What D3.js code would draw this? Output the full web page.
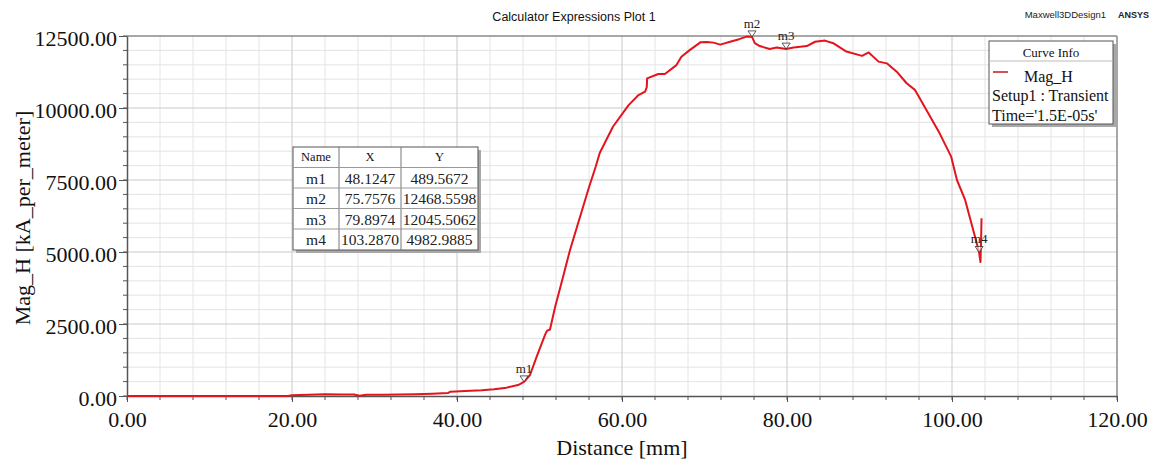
<!DOCTYPE html>
<html>
<head>
<meta charset="utf-8">
<script src="https://cdnjs.cloudflare.com/ajax/libs/d3/7.8.5/d3.min.js"></script>
<style>
  body { margin: 0; background: #fff; }
  svg { display: block; }
</style>
</head>
<body>
<script>
// curve samples: distance [mm] and Mag_H [kA_per_meter]
var distance = [0, 10, 19.5, 20, 22, 24, 26, 27.5, 28.2, 29, 31, 33, 35, 37, 38.9, 39.2, 41, 43, 44.5, 46, 47.4,
  48.1247, 48.85, 49.66, 50.67, 50.9, 51.27, 51.9, 52.7, 53.7, 55.0, 56.0, 56.8, 57.3, 58.9, 60.8, 62.0, 62.8, 63.0, 63.05,
  64.4, 65.2, 66.6, 67.2, 68.2, 69.5, 70.3, 71.1, 71.9, 73.1, 74.2, 75.1, 75.7576, 76.1, 76.7, 77.9, 78.75, 79.8974,
  80.8, 81.6, 82.4, 83.4, 84.6, 85.6, 87.2, 89.1, 89.9, 91.1, 92.1, 93.3, 94.5, 95.5, 96.9, 98.5, 99.9, 100.6, 101.6,
  103.0, 103.287, 103.45, 103.52, 103.58];
var magH = [0, 0, 0, 30, 45, 60, 55, 50, 10, 40, 45, 50, 60, 80, 100, 150, 170, 200, 235, 290, 380,
  489.5672, 730, 1365, 2120, 2260, 2310, 3100, 3970, 5070, 6300, 7250, 7950, 8440, 9350, 10100, 10450, 10570, 10720, 11030,
  11180, 11180, 11490, 11780, 12010, 12280, 12290, 12270, 12200, 12300, 12390, 12480, 12468.5598, 12250, 12150, 12050, 12100, 12045.5062,
  12100, 12130, 12150, 12300, 12340, 12250, 11960, 11810, 11930, 11610, 11550, 11260, 10860, 10630, 9930, 9120, 8310, 7500, 6800,
  5300, 4982.9885, 4650, 5300, 6170];

// markers
var markerNames = ["m1", "m2", "m3", "m4"];
var markerX = [48.1247, 75.7576, 79.8974, 103.2870];
var markerY = [489.5672, 12468.5598, 12045.5062, 4982.9885];

var xTicks = [0, 20, 40, 60, 80, 100, 120];
var yTicks = [0, 2500, 5000, 7500, 10000, 12500];

var legendLines = ["Setup1 : Transient", "Time='1.5E-05s'"];

var w = 1154, h = 464;
var pLeft = 127, pRight = 1117, pTop = 36, pBottom = 396;
var serif = "'Liberation Serif', 'Times New Roman', serif";
var sans = "'Liberation Sans', Arial, sans-serif";

var svg = d3.select("body").append("svg")
  .attr("width", w)
  .attr("height", h);

var x = d3.scaleLinear().domain([0, 120]).range([pLeft, pRight]);
var y = d3.scaleLinear().domain([0, 12500]).range([pBottom, pTop]);

// grid: minor then major
var xMinor = d3.range(0, 121, 4);
var yMinor = d3.range(0, 12501, 500);

svg.append("g").selectAll("line")
  .data(xMinor.filter(function (d) { return d % 20 !== 0; }))
  .enter().append("line")
  .attr("x1", function (d) { return x(d); })
  .attr("x2", function (d) { return x(d); })
  .attr("y1", pTop).attr("y2", pBottom)
  .attr("stroke", "#e4e4e4").attr("stroke-width", 1);

svg.append("g").selectAll("line")
  .data(yMinor.filter(function (d) { return d % 2500 !== 0; }))
  .enter().append("line")
  .attr("x1", pLeft).attr("x2", pRight)
  .attr("y1", function (d) { return y(d); })
  .attr("y2", function (d) { return y(d); })
  .attr("stroke", "#e4e4e4").attr("stroke-width", 1);

svg.append("g").selectAll("line")
  .data(xTicks.slice(1, -1))
  .enter().append("line")
  .attr("x1", function (d) { return x(d); })
  .attr("x2", function (d) { return x(d); })
  .attr("y1", pTop).attr("y2", pBottom)
  .attr("stroke", "#c9c9c9").attr("stroke-width", 1);

svg.append("g").selectAll("line")
  .data(yTicks.slice(1, -1))
  .enter().append("line")
  .attr("x1", pLeft).attr("x2", pRight)
  .attr("y1", function (d) { return y(d); })
  .attr("y2", function (d) { return y(d); })
  .attr("stroke", "#c9c9c9").attr("stroke-width", 1);

// frame top and right
svg.append("line")
  .attr("x1", pLeft).attr("x2", pRight).attr("y1", pTop).attr("y2", pTop)
  .attr("stroke", "#8a8a8a").attr("stroke-width", 1.5);
svg.append("line")
  .attr("x1", pRight).attr("x2", pRight).attr("y1", pTop).attr("y2", pBottom)
  .attr("stroke", "#8a8a8a").attr("stroke-width", 1.5);

// minor ticks
svg.append("g").selectAll("line")
  .data(xMinor)
  .enter().append("line")
  .attr("x1", function (d) { return x(d); })
  .attr("x2", function (d) { return x(d); })
  .attr("y1", pBottom).attr("y2", pBottom + 4)
  .attr("stroke", "#555");
svg.append("g").selectAll("line")
  .data(yMinor)
  .enter().append("line")
  .attr("x1", pLeft - 4).attr("x2", pLeft)
  .attr("y1", function (d) { return y(d); })
  .attr("y2", function (d) { return y(d); })
  .attr("stroke", "#555");

// axes
var xAxis = svg.append("g")
  .attr("transform", "translate(0," + pBottom + ")")
  .call(d3.axisBottom(x).tickValues(xTicks).tickFormat(d3.format(".2f")).tickSize(6).tickSizeOuter(0));
xAxis.select(".domain").attr("stroke", "#555").attr("stroke-width", 1.5);
xAxis.selectAll(".tick line").attr("stroke", "#555");
xAxis.selectAll("text")
  .attr("font-family", serif).attr("font-size", 22).attr("fill", "#111")
  .attr("y", 15).attr("dy", "0.71em");

var yAxis = svg.append("g")
  .attr("transform", "translate(" + pLeft + ",0)")
  .call(d3.axisLeft(y).tickValues(yTicks).tickFormat(d3.format(".2f")).tickSize(8).tickSizeOuter(0));
yAxis.select(".domain").attr("stroke", "#555").attr("stroke-width", 1.5);
yAxis.selectAll(".tick line").attr("stroke", "#555");
yAxis.selectAll("text")
  .attr("font-family", serif).attr("font-size", 22).attr("fill", "#111")
  .attr("x", -10).attr("dy", "0.45em");

// curve
var line = d3.line()
  .x(function (d, i) { return x(distance[i]); })
  .y(function (d, i) { return y(magH[i]); });

svg.append("path")
  .attr("d", line(distance))
  .attr("fill", "none")
  .attr("stroke", "#e3141e")
  .attr("stroke-width", 2)
  .attr("stroke-linejoin", "round");

// markers
var mk = svg.append("g").selectAll("g")
  .data(markerNames)
  .enter().append("g")
  .attr("transform", function (d, i) { return "translate(" + x(markerX[i]) + "," + y(markerY[i]) + ")"; });
mk.append("path")
  .attr("d", "M0,0 L-4,-6 L4,-6 Z")
  .attr("fill", "#fff").attr("fill-opacity", 0.6)
  .attr("stroke", "#333").attr("stroke-width", 0.8);
mk.append("text")
  .attr("y", -9)
  .attr("text-anchor", "middle")
  .attr("font-family", serif).attr("font-size", 13).attr("fill", "#222")
  .text(function (d) { return d; });

// titles
svg.append("text")
  .attr("x", 574).attr("y", 21)
  .attr("text-anchor", "middle")
  .attr("font-family", sans).attr("font-size", 12.5).attr("fill", "#111")
  .text("Calculator Expressions Plot 1");

svg.append("text")
  .attr("x", 1106).attr("y", 18)
  .attr("text-anchor", "end")
  .attr("font-family", sans).attr("font-size", 9.5).attr("fill", "#222")
  .text("Maxwell3DDesign1");
svg.append("text")
  .attr("x", 1118).attr("y", 18)
  .attr("font-family", sans).attr("font-size", 9).attr("font-weight", "bold").attr("fill", "#222")
  .text("ANSYS");

svg.append("text")
  .attr("x", (pLeft + pRight) / 2).attr("y", 455)
  .attr("text-anchor", "middle")
  .attr("font-family", serif).attr("font-size", 22).attr("fill", "#111")
  .text("Distance [mm]");

svg.append("text")
  .attr("transform", "translate(30,218) rotate(-90)")
  .attr("text-anchor", "middle")
  .attr("font-family", serif).attr("font-size", 22).attr("fill", "#111")
  .text("Mag_H [kA_per_meter]");

// marker table
var colX = [293, 339, 401, 478];
var rowY = [147, 167.5, 188, 208.5, 229, 250];
var tbl = svg.append("g");
tbl.append("rect")
  .attr("x", colX[0] + 3).attr("y", rowY[0] + 3)
  .attr("width", colX[3] - colX[0]).attr("height", rowY[5] - rowY[0])
  .attr("fill", "#a8a8a8");
tbl.append("rect")
  .attr("x", colX[0]).attr("y", rowY[0])
  .attr("width", colX[3] - colX[0]).attr("height", rowY[5] - rowY[0])
  .attr("fill", "#fff").attr("stroke", "#555").attr("stroke-width", 1);
tbl.selectAll(".vl").data(colX.slice(1, 3)).enter().append("line")
  .attr("x1", function (d) { return d; }).attr("x2", function (d) { return d; })
  .attr("y1", rowY[0]).attr("y2", rowY[5])
  .attr("stroke", "#777");
tbl.selectAll(".hl").data(rowY.slice(1, 5)).enter().append("line")
  .attr("x1", colX[0]).attr("x2", colX[3])
  .attr("y1", function (d) { return d; }).attr("y2", function (d) { return d; })
  .attr("stroke", "#999");

var header = ["Name", "X", "Y"];
tbl.selectAll(".hd").data(header).enter().append("text")
  .attr("x", function (d, i) { return (colX[i] + colX[i + 1]) / 2; })
  .attr("y", rowY[0] + 14)
  .attr("text-anchor", "middle")
  .attr("font-family", serif).attr("font-size", 12.5).attr("fill", "#111")
  .text(function (d) { return d; });

var cells = [];
markerNames.forEach(function (n, i) {
  cells.push({ c: 0, r: i, t: n });
  cells.push({ c: 1, r: i, t: markerX[i].toFixed(4) });
  cells.push({ c: 2, r: i, t: markerY[i].toFixed(4) });
});
tbl.selectAll(".cell").data(cells).enter().append("text")
  .attr("x", function (d) { return (colX[d.c] + colX[d.c + 1]) / 2; })
  .attr("y", function (d) { return rowY[d.r + 1] + 16; })
  .attr("text-anchor", "middle")
  .attr("font-family", serif).attr("font-size", 15.5).attr("fill", "#222")
  .text(function (d) { return d.t; });

// curve info legend
var lg = svg.append("g");
lg.append("rect")
  .attr("x", 992).attr("y", 44).attr("width", 124).attr("height", 83)
  .attr("fill", "#a8a8a8");
lg.append("rect")
  .attr("x", 989).attr("y", 41).attr("width", 124).attr("height", 83)
  .attr("fill", "#fff").attr("stroke", "#555").attr("stroke-width", 1);
lg.append("line")
  .attr("x1", 989).attr("x2", 1113).attr("y1", 61).attr("y2", 61)
  .attr("stroke", "#bbb");
lg.append("text")
  .attr("x", 1051).attr("y", 57)
  .attr("text-anchor", "middle")
  .attr("font-family", serif).attr("font-size", 13).attr("fill", "#111")
  .text("Curve Info");
lg.append("line")
  .attr("x1", 993).attr("x2", 1008).attr("y1", 72).attr("y2", 72)
  .attr("stroke", "#c8141c").attr("stroke-width", 1.5);
lg.append("text")
  .attr("x", 1024).attr("y", 82)
  .attr("font-family", serif).attr("font-size", 16).attr("fill", "#111")
  .text("Mag_H");
lg.selectAll(".ll").data(legendLines).enter().append("text")
  .attr("x", 992)
  .attr("y", function (d, i) { return 101 + i * 20; })
  .attr("font-family", serif).attr("font-size", 16).attr("fill", "#111")
  .text(function (d) { return d; });
</script>
</body>
</html>
